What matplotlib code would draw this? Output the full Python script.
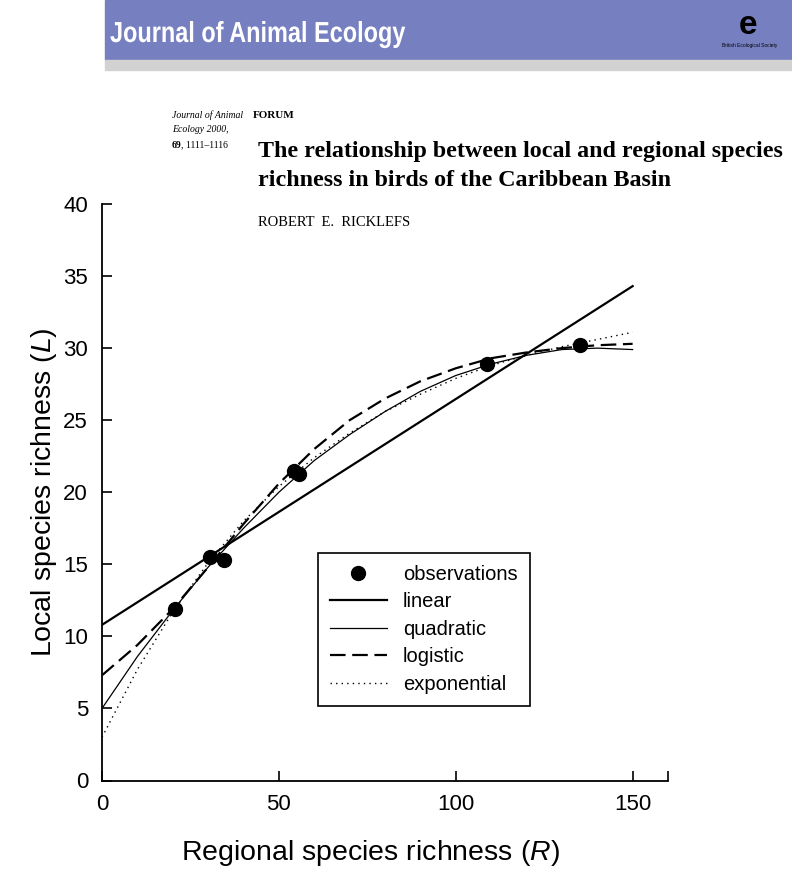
import matplotlib
matplotlib.use('Agg')
import matplotlib.pyplot as plt
from matplotlib.patches import Rectangle, PathPatch
from matplotlib.lines import Line2D
from matplotlib.textpath import TextPath
from matplotlib.font_manager import FontProperties
from matplotlib.transforms import Affine2D, IdentityTransform

plt.rcParams['mathtext.fontset'] = 'custom'
plt.rcParams['mathtext.it'] = 'Liberation Sans:italic'

# observations
obs_R = [20.5, 30.4, 34.5, 54.3, 55.8, 108.8, 135.0]
obs_L = [11.9, 15.5, 15.3, 21.5, 21.3, 28.9, 30.2]

# fitted curves
lin_R = [0, 150]
lin_L = [10.8, 34.3]
R_grid = [0, 10, 20, 30, 40, 50, 60, 70, 80, 90, 100, 110, 120, 130, 140, 150]
quad_L = [5.0, 8.6, 11.8, 14.8, 17.5, 20.0, 22.2, 24.0, 25.6, 27.0, 28.1, 28.9, 29.5, 29.9, 30.0, 29.9]
logi_L = [7.3, 9.4, 11.9, 14.8, 17.8, 20.6, 23.0, 25.0, 26.5, 27.7, 28.6, 29.3, 29.7, 30.0, 30.2, 30.3]
expo_L = [3.0, 7.7, 11.7, 15.1, 18.0, 20.4, 22.4, 24.1, 25.6, 26.8, 27.9, 28.8, 29.5, 30.1, 30.6, 31.1]

x_ticks = [0, 50, 100, 150]
y_ticks = [0, 5, 10, 15, 20, 25, 30, 35, 40]

sans = ['Liberation Sans', 'DejaVu Sans']
serif = ['Liberation Serif', 'DejaVu Serif']

fig = plt.figure(figsize=(7.92, 8.74), dpi=100)
W, H = 792.0, 874.0

# journal banner
fig.patches.append(Rectangle((105 / W, 1 - 60 / H), 1 - 105 / W, 60 / H,
                             transform=fig.transFigure, color='#7680c0', zorder=0))
fig.patches.append(Rectangle((105 / W, 1 - 70 / H), 1 - 105 / W, 10 / H,
                             transform=fig.transFigure, color='#d2d2d2', zorder=0))
# condensed banner title: squeeze a text path horizontally
tp = TextPath((0, 0), 'Journal of Animal Ecology', size=29,
              prop=FontProperties(family='Liberation Sans', weight='bold'))
tr = Affine2D().scale(0.81, 1.0).translate(110, H - 42)
fig.patches.append(PathPatch(tr.transform_path(tp), transform=IdentityTransform(),
                             facecolor='white', edgecolor='none', zorder=2))
fig.text(748 / W, 1 - 26 / H, 'e', color='black', fontsize=24, fontweight='bold',
         family=sans, va='center', ha='center')
fig.text(750 / W, 1 - 46 / H, 'British Ecological Society', color='black', fontsize=3.5,
         family=sans, va='center', ha='center')

# article header
fig.text(172 / W, 1 - 115 / H, 'Journal of Animal', fontsize=7, style='italic', family=serif, va='center')
fig.text(172 / W, 1 - 130 / H, 'Ecology 2000,', fontsize=7, style='italic', family=serif, va='center')
fig.text(172 / W, 1 - 145 / H, '69', fontsize=7, fontweight='bold', family=serif, va='center')
fig.text(181 / W, 1 - 145 / H, ', 1111–1116', fontsize=7, family=serif, va='center')
fig.text(253 / W, 1 - 115 / H, 'FORUM', fontsize=8, fontweight='bold', family=serif, va='center')
fig.text(258 / W, 1 - 152 / H, 'The relationship between local and regional species', fontsize=17.3,
         fontweight='bold', family=serif, va='center')
fig.text(258 / W, 1 - 181 / H, 'richness in birds of the Caribbean Basin', fontsize=17.3,
         fontweight='bold', family=serif, va='center')
fig.text(258 / W, 1 - 222 / H, 'ROBERT  E.  RICKLEFS', fontsize=10.5, family=serif, va='center')

ax = fig.add_axes([102 / W, 1 - 780.5 / H, 566 / W, 576.5 / H])
ax.patch.set_alpha(0)

ax.plot(lin_R, lin_L, color='black', lw=1.6)
ax.plot(R_grid, quad_L, color='black', lw=0.9)
ax.plot(R_grid, logi_L, color='black', lw=1.6, dashes=(7, 3))
ax.plot(R_grid, expo_L, color='black', lw=1.0, linestyle=(0, (1, 3)))
ax.plot(obs_R, obs_L, 'o', color='black', markersize=10)

ax.set_xlim(0, 160)
ax.set_ylim(0, 40)
ax.set_xticks(x_ticks)
ax.set_xticks([160], minor=True)
ax.set_yticks(y_ticks)
ax.tick_params(direction='in', length=7, width=1.2, labelsize=16, pad=10)
ax.tick_params(which='minor', direction='in', length=7, width=1.2)
for lab in ax.get_xticklabels() + ax.get_yticklabels():
    lab.set_family(sans)
ax.spines['top'].set_visible(False)
ax.spines['right'].set_visible(False)
ax.spines['left'].set_linewidth(1.3)
ax.spines['bottom'].set_linewidth(1.3)

ax.set_xlabel('Regional species richness ($\\mathit{R}$)', fontsize=20.5, family=sans, labelpad=16)
ax.xaxis.label.set_x(0.475)
ax.set_ylabel('Local species richness ($\\mathit{L}$)', fontsize=20.5, family=sans, labelpad=3)

handles = [
    Line2D([], [], color='black', marker='o', linestyle='none', markersize=10),
    Line2D([], [], color='black', lw=1.6),
    Line2D([], [], color='black', lw=0.9),
    Line2D([], [], color='black', lw=1.6, dashes=(7, 3)),
    Line2D([], [], color='black', lw=1.0, linestyle=(0, (1, 3))),
]
labels = ['observations', 'linear', 'quadratic', 'logistic', 'exponential']
leg = ax.legend(handles, labels, loc='upper left', bbox_to_anchor=(0.382, 0.395),
                borderaxespad=0, fancybox=False, edgecolor='black', framealpha=1,
                prop={'family': sans, 'size': 14.5}, handlelength=2.8, labelspacing=0.42,
                borderpad=0.6, handletextpad=0.8)
leg.get_frame().set_linewidth(1.2)

fig.savefig('out.png', dpi=100)
